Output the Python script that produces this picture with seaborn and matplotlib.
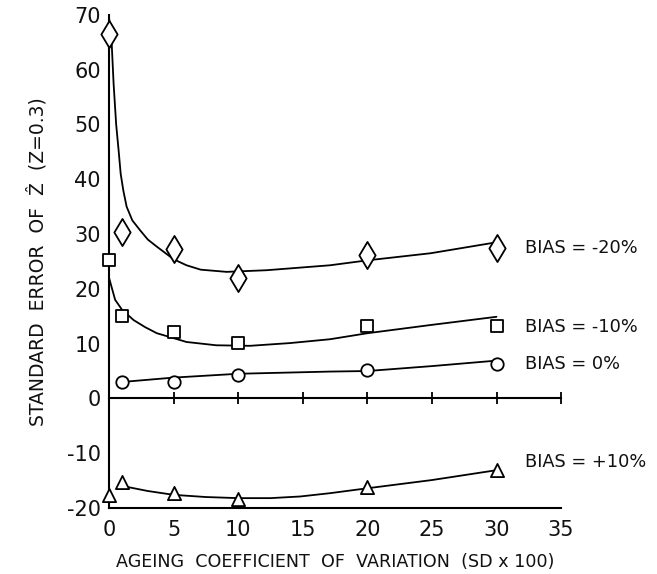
import matplotlib
matplotlib.use("Agg")
import matplotlib.pyplot as plt
import seaborn as sns
import pandas as pd
import numpy as np

# ---- data ----
x_obs = [0, 1, 5, 10, 20, 30]
diamond_y = [66.5, 30.3, 27.2, 22.0, 26.2, 27.5]     # BIAS = -20%
square_y = [25.2, 15.1, 12.2, 10.1, 13.2, 13.2]      # BIAS = -10%
circle_x = [1, 5, 10, 20, 30]
circle_y = [3.0, 3.0, 4.3, 5.2, 6.3]                 # BIAS = 0%
triangle_y = [-17.6, -15.2, -17.2, -18.4, -16.1, -13.1]  # BIAS = +10%

# fitted curves (read at several x positions)
c20_x = [0.0, 0.2, 0.35, 0.55, 0.75, 0.9, 1.1, 1.36, 1.8, 2.4, 3.0, 3.7, 5.0, 6.0, 7.1, 9.1, 12.2, 17.1, 20.0, 24.9, 30.0]
c20_y = [69.5, 65.0, 57.5, 50.0, 45.0, 41.0, 38.0, 35.0, 32.5, 30.7, 29.0, 27.7, 25.4, 24.3, 23.5, 23.1, 23.4, 24.3, 25.2, 26.5, 28.5]
c10_x = [0.0, 0.47, 1.0, 1.9, 2.8, 3.7, 5.0, 6.0, 8.3, 10.9, 14.0, 17.1, 20.0, 24.9, 30.0]
c10_y = [22.0, 18.0, 16.2, 14.3, 13.0, 11.9, 11.0, 10.3, 9.7, 9.6, 10.1, 10.8, 11.9, 13.4, 14.9]
c0_x = [1.0, 5.0, 10.0, 17.1, 20.0, 25.0, 30.0]
c0_y = [3.0, 3.8, 4.5, 4.9, 5.0, 5.9, 6.9]
cp10_x = [0.8, 1.5, 3.0, 5.0, 7.5, 10.0, 12.5, 14.8, 17.1, 20.0, 25.0, 30.0]
cp10_y = [-15.8, -16.2, -16.9, -17.6, -18.0, -18.2, -18.2, -17.9, -17.3, -16.4, -14.9, -13.1]

labels = ["BIAS = -20%", "BIAS = -10%", "BIAS = 0%", "BIAS = +10%"]
label_y = [27.4, 13.0, 6.3, -11.6]
x_ticks = [0, 5, 10, 15, 20, 25, 30, 35]
y_ticks = [-20, -10, 0, 10, 20, 30, 40, 50, 60, 70]

sns.set_theme(style="white")
plt.rcParams["font.family"] = ["DejaVu Sans"]

fig = plt.figure(figsize=(6.57, 5.74), dpi=100)
ax = fig.add_axes([0.166, 0.115, 0.688, 0.859])

lw = 1.3
for cx, cy in [(c20_x, c20_y), (c10_x, c10_y), (c0_x, c0_y), (cp10_x, cp10_y)]:
    sns.lineplot(x=cx, y=cy, ax=ax, color="black", lw=lw, sort=False, estimator=None)

mk = dict(facecolor="white", edgecolor="black", linewidth=1.3, zorder=5, clip_on=False)
sns.scatterplot(x=x_obs, y=diamond_y, marker="d", s=190, ax=ax, **mk)
sns.scatterplot(x=x_obs, y=square_y, marker="s", s=80, ax=ax, **mk)
sns.scatterplot(x=circle_x, y=circle_y, marker="o", s=80, ax=ax, **mk)
sns.scatterplot(x=x_obs, y=triangle_y, marker="^", s=90, ax=ax, **mk)

for lab, ly in zip(labels, label_y):
    ax.text(32.2, ly, lab, fontsize=12.8, va="center", ha="left", color="#111111")

ax.set_xlim(0, 35)
ax.set_ylim(-20, 70)
ax.set_xticks(x_ticks)
ax.set_yticks(y_ticks)
ax.set_xticklabels([str(t) for t in x_ticks])
ax.set_yticklabels([str(t) for t in y_ticks])
for s in ["top", "right"]:
    ax.spines[s].set_visible(False)
for s in ["left", "bottom"]:
    ax.spines[s].set_color("black")
    ax.spines[s].set_linewidth(1.5)
ax.tick_params(axis="y", direction="in", length=10, width=1.3, pad=6, colors="black", labelsize=15)
ax.tick_params(axis="x", direction="in", length=8, width=1.3, pad=9, colors="black", labelsize=15)
ax.tick_params(axis="both", labelcolor="#111111")

# zero line with crossing ticks
sec = ax.secondary_xaxis(20 / 90)
sec.set_xticks(x_ticks[1:])
sec.tick_params(direction="inout", length=9, width=1.3, labelbottom=False, labeltop=False, colors="black")
for s in sec.spines.values():
    s.set_linewidth(1.5)
    s.set_color("black")

ax.set_xlabel("AGEING  COEFFICIENT  OF  VARIATION  (SD x 100)", fontsize=12.6, labelpad=9, color="#111111")
ax.set_ylabel("STANDARD  ERROR  OF  Ẑ  (Z=0.3)", fontsize=13.5, labelpad=14, color="#111111")

fig.savefig("out.png", dpi=100, facecolor="white")
